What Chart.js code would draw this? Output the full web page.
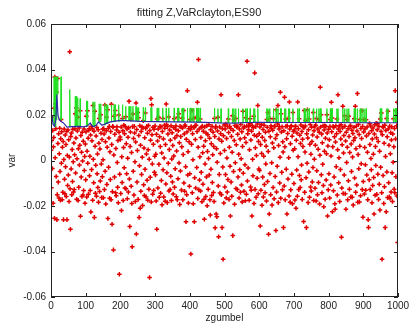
<!DOCTYPE html>
<html>
<head>
<meta charset="utf-8">
<script src="https://cdn.jsdelivr.net/npm/chart.js@4.4.1/dist/chart.umd.min.js"></script>
<style>
  html, body { margin: 0; padding: 0; background: #ffffff; }
  #c { display: block; }
</style>
</head>
<body>
<canvas id="c" width="409" height="331"></canvas>
<script>
// Daily returns, in units of 1e-4, day 0..999 (ten blocks of 100 days)
const r000 = [
  45, -120, 88, 190, -35, 132, -188, 60, 101, 230,
  -254, 367, 12, 250, 140, -70, 300, -260, -150, 360,
  75, -95, 118, -165, 30, 142, -48, -175, 96, 180,
  -12, 126, -172, 58, -140, 84, -260, 4, 138, -82,
  -146, 112, -28, 70, -158, 128, -260, 22, -110, 134,
  -64, 91, -180, 15, 478, -124, -302, 106, -37, 121,
  -150, 48, -92, 137, -6, -138, 77, -128, 25, 140,
  205, -55, 99, 231, -170, 8, 130, 190, -176, 52,
  -118, 143, -20, 67, 219, -245, 110, -73, 36, -158,
  124, -2, -152, 85, -132, 139, -44, 18, -188, 72
];
const r100 = [
  -85, 126, 195, -160, 41, 219, -12, 98, -148, 133,
  140, -67, 19, -132, 112, -226, 150, -40, 87, 140,
  -175, 242, 5, -98, 129, -250, 216, 63, -144, -21,
  108, -157, 145, -58, 29, -119, 135, -183, 76, 185,
  -136, 51, -90, 201, 120, -15, -163, 92, -71, 138,
  3, -164, 140, 117, -128, 244, -47, 82, -191, 131,
  190, -105, 58, 223, -255, 141, -30, 99, 150, -166,
  38, -84, 127, -172, 247, 70, -280, -137, 150, 146,
  -393, 24, 195, -73, 115, 220, -142, 53, -155, 134,
  148, -9, -118, 88, -186, 200, 124, -500, -60, 103
];
const r200 = [
  92, -145, 147, -220, 16, -97, 185, 131, -176, 57,
  155, -32, 118, -121, 150, 192, -124, 74, -58, 139,
  -168, 10, 102, -139, 144, 260, -81, -290, 62, 125,
  182, -113, 35, -189, -379, 149, 204, -47, 97, -152,
  150, 121, -6, -180, 81, 253, -323, 136, -95, 44,
  211, -171, 188, 110, -250, -23, 153, -210, 67, -135,
  128, -61, 148, 14, -198, 143, 175, -107, 55, -154,
  100, -39, 209, 141, -160, 29, 150, -87, 120, -175,
  47, 154, -126, 6, -514, 132, -74, 89, 272, -182,
  245, 113, -15, -148, 146, 71, -132, 137, -52, 19
];
const r300 = [
  152, -63, 28, -178, 115, -302, 182, 86, -121, 139,
  190, -17, -162, 104, 150, 61, -144, 148, -88, 33,
  -195, 127, 185, -41, 95, -160, 11, 155, 142, -179,
  70, -103, 248, 158, -54, -185, 149, 116, -12, 191,
  -134, 48, 134, -128, 89, -69, 153, -176, 7, 122,
  -95, 66, -147, 145, 20, 184, -118, 99, -36, 137,
  152, -159, 42, 110, -173, 190, -80, 131, 206, -11,
  78, -193, 150, -46, 105, 147, -130, 60, 186, 143,
  -173, 26, 220, -99, 117, -135, 156, 151, -27, -269,
  93, -150, 125, 307, -64, 39, -187, 141, 82, -113
];
const r400 = [
  -58, 180, 136, -411, 149, 71, 220, -142, 118, 3,
  -190, 185, 144, -269, -76, 153, 92, -121, 155, 190,
  -31, 127, 256, -167, 58, 444, -129, 139, -86, 16,
  182, -134, 101, -52, 146, -181, 151, 34, -104, 129,
  63, -170, -258, 148, -15, 87, -158, 121, -72, 152,
  -199, 40, 113, -126, 9, 157, -64, 98, -173, -240,
  135, -38, 74, -154, 150, -97, 25, 124, -141, 61,
  -180, 185, 106, -296, 143, 150, -235, 52, -247, -8,
  130, 190, -112, -335, 95, -61, 147, -143, 31, 118,
  289, -150, 85, -295, 140, -29, -434, 109, -187, 156
];
const r500 = [
  44, -116, 138, -62, 160, -165, 97, 11, -139, 150,
  -84, 182, 123, -171, 58, 150, -25, -244, 141, -95,
  106, -157, 36, 197, -330, 132, -48, 180, 88, -192,
  154, -10, 185, -123, 69, 147, 152, -128, 115, -73,
  289, 27, -165, 139, -41, 94, -140, 158, 8, -108,
  126, -182, 62, 216, -56, 143, -135, 149, 100, -19,
  -177, 188, 79, -148, 152, 436, -90, 118, -33, 135,
  150, -175, 47, 161, 183, -116, 90, -131, 129, -244,
  154, 5, -67, 144, 194, -189, 111, 385, -127, 56,
  149, -162, 22, 107, -78, 160, 242, -146, 84, -37
];
const r600 = [
  118, -44, 147, -288, 70, -131, 159, 31, -197, 102,
  -73, 136, -160, 19, 155, -106, 88, -142, 124, -15,
  63, -178, 180, 146, -92, 211, 40, -324, 129, -235,
  185, -57, 104, -150, 153, 142, -10, -196, 77, 133,
  -119, 183, 56, -168, 151, 150, -70, 97, -308, 223,
  -138, 113, -25, 160, 242, -185, 66, 139, 149, -99,
  14, 300, -166, 206, 125, -52, 148, -129, 82, 37,
  -295, 131, -112, 278, 60, -173, 182, 150, -38, 96,
  -235, 152, 119, -81, 185, 12, -156, 257, 138, -183,
  74, -129, 150, 153, -60, 107, -190, 211, 45, 127
];
const r700 = [
  -101, 134, 52, -174, 149, 151, -210, 89, -42, 121,
  -157, 257, 16, 140, -128, 183, -66, 111, -119, 75,
  156, -85, -20, 127, -171, 93, 61, 148, -268, 144,
  220, -140, 37, 152, 176, -76, -295, 118, -12, 223,
  99, -185, 135, -50, 182, -162, 71, 158, -117, 28,
  -134, 146, 83, -94, 112, -31, 211, -176, 131, 6,
  150, -122, 67, 155, -178, 185, -45, 103, -150, 138,
  50, -97, 180, 124, -191, 23, 322, 147, 201, -63,
  116, -142, 78, -17, 153, -110, -203, 134, 41, 152,
  -170, 98, 150, -86, 30, 201, 121, -244, 64, -129
];
const r800 = [
  137, -58, 91, -165, 149, 180, -108, 20, 256, 126,
  187, -225, 60, 150, -133, 145, -72, 104, -190, -214,
  81, 153, -27, 118, 182, -152, 47, 289, 139, -98,
  12, 152, -180, 128, -40, 95, 157, -337, -121, 69,
  143, 238, -145, 33, 110, -64, 197, 151, -146, 86,
  -214, 124, -9, 180, 58, -173, 140, -89, 194, 106,
  -126, 35, 149, 154, -160, 72, -48, 133, -161, 15,
  119, -196, 88, 146, 183, -77, 100, 238, -140, 52,
  151, -108, 130, 294, -183, 26, 158, -36, 114, -182,
  63, 180, -155, 141, -14, 97, 219, -128, 150, -249
];
const r900 = [
  -92, 125, 180, -147, 57, 138, -19, -131, 179, 108,
  -64, 147, 36, -172, -260, -294, 119, -85, 162, 70,
  -128, 152, 9, -41, 131, -186, 94, -110, 143, 28,
  -75, -235, 116, 157, -153, 61, -22, 163, 100, -149,
  135, 161, -60, 84, -171, 149, -104, 41, -218, 182,
  -30, 127, 209, -142, -434, 113, 150, -66, 145, -189,
  76, -115, 155, -295, 18, 132, -225, 185, -50, 104,
  -163, 216, 139, -98, 67, -160, 151, -167, 30, 122,
  -139, 90, 148, -54, -180, 117, -8, 183, 60, -126,
  141, -142, 307, 95, -71, 219, 153, -156, 256, -360
];

// VaR forecast (1e-4 units) at the days where its course changes
const varDays  = [0, 3, 6, 10, 14, 17, 20, 24, 30, 36, 46, 60, 80, 94, 105, 113, 118, 123, 130, 137, 147, 160, 171, 200, 230, 257, 300, 353, 420, 488, 530, 560, 600, 700, 800, 900, 1000];
const varLevel = [200, 195, 158, 150, 180, 290, 200, 178, 170, 165, 147, 149, 150, 148, 152, 165, 152, 149, 155, 170, 155, 163, 170, 176, 174, 172, 171, 170, 169, 165, 164, 167, 168, 167, 167, 166, 166];

// Expected shortfall (1e-4 units), in force from each listed day onward
const esDays  = [0, 30, 45, 65, 75, 82, 95, 110, 135, 160, 210, 250, 300, 450, 480];
const esLevel = [368, 340, 312, 282, 276, 272, 262, 258, 249, 245, 238, 233, 231, 230, 228];

const xTicks = [0, 100, 200, 300, 400, 500, 600, 700, 800, 900, 1000];
const xTickLabels = ['0', '100', '200', '300', '400', '500', '600', '700', '800', '900', '1000'];
const yTicks = [-0.06, -0.04, -0.02, 0, 0.02, 0.04, 0.06];
const yTickLabels = ['-0.06', '-0.04', '-0.02', '0', '0.02', '0.04', '0.06'];

const UNIT = 1e-4;
const FONT = "'Liberation Sans', Arial, Helvetica, sans-serif";
const INK = '#222222';

const returns = [].concat(r000, r100, r200, r300, r400, r500, r600, r700, r800, r900);

// level in force on a given day (last listed day not after it)
function levelOn(days, levels, d) {
  let v = levels[0];
  for (let k = 0; k < days.length; k++) {
    if (days[k] <= d) v = levels[k]; else break;
  }
  return v;
}

const returnPoints = returns.map((v, i) => ({ x: i, y: v * UNIT }));
const varPoints = varDays.map((d, k) => ({ x: d, y: varLevel[k] * UNIT }));

// ES spikes on the days the return breaks through the VaR
const esPoints = [];
returns.forEach((v, i) => {
  const base = levelOn(varDays, varLevel, i);
  if (v > base) {
    const top = levelOn(esDays, esLevel, i);
    esPoints.push({ x: i - 1, y: base * UNIT });
    esPoints.push({ x: i, y: top * UNIT });
    esPoints.push({ x: i + 1, y: base * UNIT });
    esPoints.push({ x: i + 1, y: null });
  }
});

// closed axes box with inward tick marks on all four sides
const axesBox = {
  id: 'axesBox',
  afterDatasetsDraw(chart) {
    const { ctx, chartArea: a, scales: { x, y } } = chart;
    const L = 4;
    ctx.save();
    ctx.strokeStyle = INK;
    ctx.lineWidth = 1;
    ctx.strokeRect(a.left + 0.5, a.top + 0.5, a.right - a.left - 1, a.bottom - a.top - 1);
    ctx.beginPath();
    x.ticks.forEach(t => {
      const px = Math.round(x.getPixelForValue(t.value)) + 0.5;
      ctx.moveTo(px, a.bottom); ctx.lineTo(px, a.bottom - L);
      ctx.moveTo(px, a.top); ctx.lineTo(px, a.top + L);
    });
    y.ticks.forEach(t => {
      const py = Math.round(y.getPixelForValue(t.value)) + 0.5;
      ctx.moveTo(a.left, py); ctx.lineTo(a.left + L, py);
      ctx.moveTo(a.right, py); ctx.lineTo(a.right - L, py);
    });
    ctx.stroke();
    ctx.restore();
  }
};

new Chart(document.getElementById('c'), {
  type: 'scatter',
  data: {
    datasets: [
      {
        label: 'VaR',
        data: varPoints,
        showLine: true,
        borderColor: '#2b2ba6',
        borderWidth: 1.2,
        pointRadius: 0,
        tension: 0
      },
      {
        label: 'ES',
        data: esPoints,
        showLine: true,
        spanGaps: false,
        borderColor: '#22e022',
        borderWidth: 1,
        pointRadius: 0,
        tension: 0
      },
      {
        label: 'returns',
        data: returnPoints,
        pointStyle: 'cross',
        pointRadius: 2.3,
        borderWidth: 1.5,
        borderColor: '#e00000',
        backgroundColor: '#e00000'
      }
    ]
  },
  options: {
    responsive: false,
    devicePixelRatio: 1,
    animation: false,
    events: [],
    layout: { padding: { left: 0, right: 11, top: 0, bottom: 0 } },
    plugins: {
      legend: { display: false },
      tooltip: { enabled: false },
      title: {
        display: true,
        text: 'fitting Z,VaRclayton,ES90',
        color: INK,
        font: { family: FONT, size: 11, weight: 'normal' },
        padding: { top: 6, bottom: 4.8 }
      }
    },
    scales: {
      x: {
        type: 'linear',
        min: 0,
        max: 1000,
        afterBuildTicks: s => { s.ticks = xTicks.map(v => ({ value: v })); },
        afterFit: s => { s.height = 34; s.paddingLeft = 0; s.paddingRight = 0; },
        grid: { display: false, drawTicks: false },
        border: { display: false },
        ticks: {
          autoSkip: false,
          maxRotation: 0,
          padding: 3,
          color: INK,
          font: { family: FONT, size: 10 },
          callback: (v, i) => xTickLabels[i]
        },
        title: {
          display: true,
          text: 'zgumbel',
          color: INK,
          font: { family: FONT, size: 10 },
          padding: { top: 0, bottom: 6.5 }
        }
      },
      y: {
        type: 'linear',
        min: -0.06,
        max: 0.06,
        afterBuildTicks: s => { s.ticks = yTicks.map(v => ({ value: v })); },
        afterFit: s => { s.width = 51; s.paddingTop = 0; s.paddingBottom = 0; },
        grid: { display: false, drawTicks: false },
        border: { display: false },
        ticks: {
          autoSkip: false,
          padding: 5,
          color: INK,
          font: { family: FONT, size: 10 },
          callback: (v, i) => yTickLabels[i]
        },
        title: {
          display: true,
          text: 'var',
          color: INK,
          font: { family: FONT, size: 10 },
          padding: { top: 6, bottom: 0 }
        }
      }
    }
  },
  plugins: [axesBox]
});
</script>
</body>
</html>
